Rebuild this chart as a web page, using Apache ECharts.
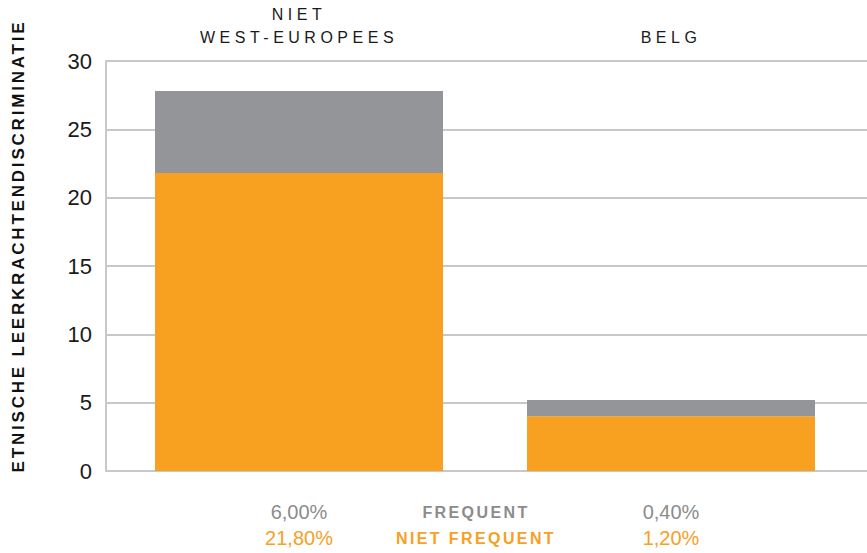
<!DOCTYPE html>
<html>
<head>
<meta charset="utf-8">
<script src="https://cdn.jsdelivr.net/npm/echarts@6/dist/echarts.min.js"></script>
<style>html,body{margin:0;padding:0;background:#fff}#c{width:867px;height:553px}</style>
</head>
<body>
<div id="c"></div>
<script>
const categories = ['NIET\nWEST-EUROPEES', 'BELG'];
const nietFrequent = [21.8, 4.0];
const frequent = [6.0, 1.2];
const frequentLabels = ['6,00%', '0,40%'];
const nietFrequentLabels = ['21,80%', '1,20%'];
const yTicks = [0, 5, 10, 15, 20, 25, 30];
const yAxisTitle = 'ETNISCHE LEERKRACHTENDISCRIMINATIE';
const legendFrequent = 'FREQUENT';
const legendNietFrequent = 'NIET FREQUENT';

const ORANGE = '#F8A01F', GREY = '#939598', LINE = '#C8C8C8';
const FONT = 'Liberation Sans';

const chart = echarts.init(document.getElementById('c'), null, {renderer: 'svg'});
chart.setOption({
  animation: false,
  grid: [
    {left: 106, right: 0, top: 61, bottom: 82},
    {left: 113, right: 10, top: 61, bottom: 82}
  ],
  xAxis: [
    {gridIndex: 0, type: 'category', data: categories, show: false},
    {gridIndex: 1, type: 'category', data: categories, position: 'top',
      axisLine: {show: false}, axisTick: {show: false},
      axisLabel: {margin: 12, fontFamily: FONT, fontSize: 16, color: '#1a1a1a', lineHeight: 23}},
    {gridIndex: 1, type: 'category', data: categories, position: 'bottom',
      axisLine: {show: false}, axisTick: {show: false},
      axisLabel: {margin: 28, fontFamily: FONT,
        formatter: function (v, i) { return '{g|' + frequentLabels[i] + '}\n{o|' + nietFrequentLabels[i] + '}'; },
        rich: {
          g: {fontFamily: FONT, fontSize: 20, color: '#8C8C8C', lineHeight: 26},
          o: {fontFamily: FONT, fontSize: 20, color: ORANGE, lineHeight: 26}
        }}}
  ],
  yAxis: [
    {gridIndex: 0, type: 'value', min: yTicks[0], max: yTicks[yTicks.length - 1], interval: yTicks[1] - yTicks[0],
      axisLine: {show: true, lineStyle: {color: LINE, width: 2}},
      axisTick: {show: false},
      splitLine: {show: true, lineStyle: {color: LINE, width: 2}},
      axisLabel: {margin: 14, fontFamily: FONT, fontSize: 22, color: '#1a1a1a'}},
    {gridIndex: 1, type: 'value', min: yTicks[0], max: yTicks[yTicks.length - 1], interval: yTicks[1] - yTicks[0], show: false}
  ],
  series: [
    {type: 'bar', xAxisIndex: 1, yAxisIndex: 1, stack: 's', data: nietFrequent, barWidth: 288,
      itemStyle: {color: ORANGE}},
    {type: 'bar', xAxisIndex: 1, yAxisIndex: 1, stack: 's', data: frequent, barWidth: 288,
      itemStyle: {color: GREY}}
  ],
  graphic: [
    {type: 'text', x: 18, y: 246, rotation: Math.PI / 2,
      style: {text: yAxisTitle, x: 0, y: 0, align: 'center', verticalAlign: 'middle',
        fontFamily: FONT, fontWeight: 'bold', fontSize: 17, fill: '#111'}},
    {type: 'text', x: 476, y: 512, style: {text: legendFrequent, x: 0, y: 0, align: 'center', verticalAlign: 'middle',
      fontFamily: FONT, fontWeight: 'bold', fontSize: 16, fill: '#8C8C8C'}},
    {type: 'text', x: 476, y: 538, style: {text: legendNietFrequent, x: 0, y: 0, align: 'center', verticalAlign: 'middle',
      fontFamily: FONT, fontWeight: 'bold', fontSize: 16, fill: ORANGE}}
  ]
});

// letter-spacing for the spaced capital texts (SVG renderer)
const spacing = {};
spacing[yAxisTitle] = '2.8px';
spacing[legendFrequent] = '2.4px';
spacing[legendNietFrequent] = '2.4px';
categories.forEach(function (c) { c.split('\n').forEach(function (l) { spacing[l] = '4.5px'; }); });
document.querySelectorAll('#c svg text, #c svg tspan').forEach(function (t) {
  const s = spacing[t.textContent.trim()];
  if (s) t.style.letterSpacing = s;
});
</script>
</body>
</html>
